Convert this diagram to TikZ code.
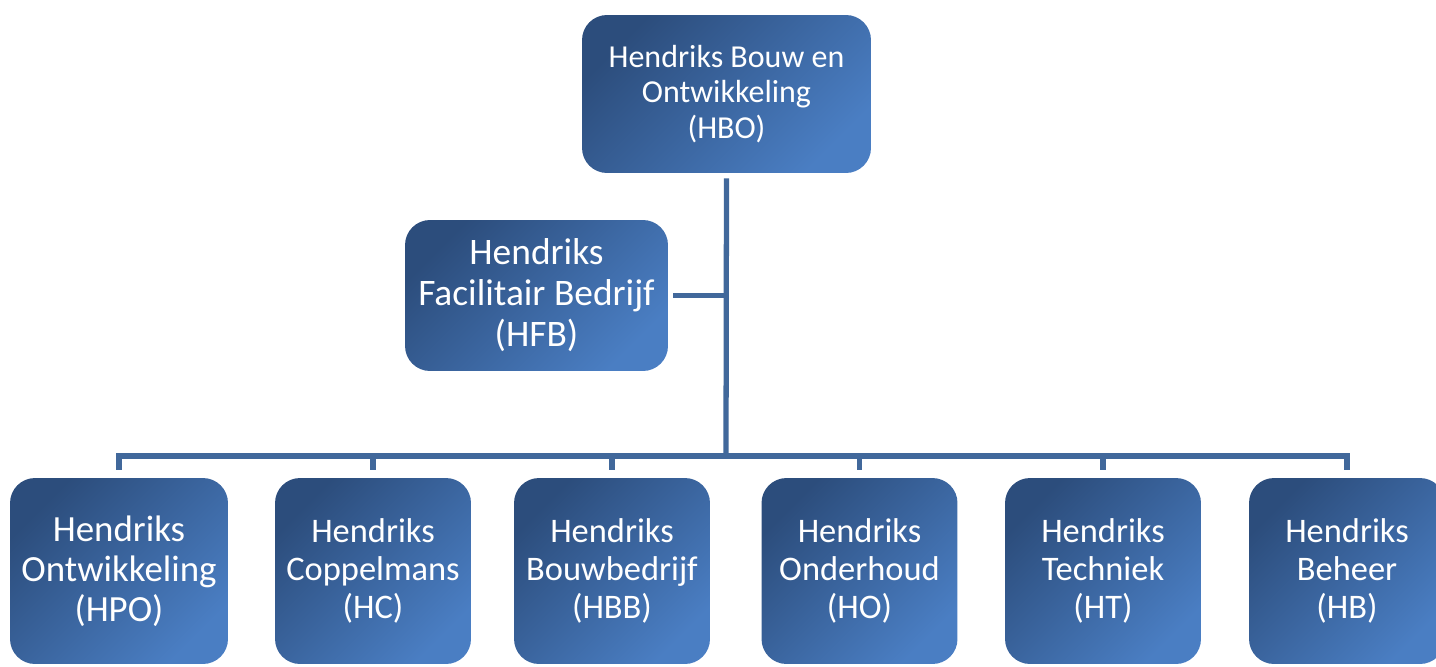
\documentclass[tikz,border=0pt]{standalone}
\usepackage{fontspec}
\setmainfont{Carlito}
\usetikzlibrary{positioning}

\definecolor{unitdark}{HTML}{2C4D7C}
\definecolor{unitlight}{HTML}{4A7EC3}
\definecolor{linkblue}{HTML}{41689B}

\tikzset{
  unit/.style={rectangle, rounded corners=0.5cm, text=white, align=center, inner sep=0pt,
    top color=unitdark, bottom color=unitlight, shading angle=45},
  link/.style={linkblue, line width=3pt, line join=miter},
  top/.style={unit, minimum width=5.78cm, minimum height=3.16cm, font=\fontsize{18.2}{20.2}\selectfont},
  side/.style={unit, minimum width=5.26cm, minimum height=3.02cm, font=\fontsize{21.3}{23.3}\selectfont},
  sub/.style={unit, minimum width=3.92cm, minimum height=3.72cm, font=\fontsize{19.6}{21.6}\selectfont}
}

\begin{document}
\begin{tikzpicture}[x=0.02cm, y=-0.02cm]
    \useasboundingbox (0,0) rectangle (1436,666);
    \node[top] (HBO) at (726.5,94) {Hendriks Bouw en\\Ontwikkeling\\(HBO)};
    \node[side] (HFB) at (536.5,295.5) {Hendriks\\Facilitair Bedrijf\\(HFB)};
    \node[sub, minimum width=4.36cm, font=\fontsize{21}{22.8}\selectfont] (HPO) at (119,571) {Hendriks\\Ontwikkeling\\(HPO)};
    \node[sub] (HC) at (373,571) {Hendriks\\Coppelmans\\(HC)};
    \node[sub] (HBB) at (612,571) {Hendriks\\Bouwbedrijf\\(HBB)};
    \node[sub] (HO) at (859.5,571) {Hendriks\\Onderhoud\\(HO)};
    \node[sub] (HT) at (1103,571) {Hendriks\\Techniek\\(HT)};
    \node[sub] (HB) at (1347,571) {Hendriks\\Beheer\\(HB)};
    \coordinate (bus) at (726,456);
    % connectors
    \draw[link, shorten <=0.1cm] (HBO.south) -- (bus);
    \draw[link, shorten <=0.1cm] (HFB.east) -- (HFB.east -| bus);
    \draw[link, shorten <=0.16cm, shorten >=0.16cm] (HPO.north) -- (HPO.north |- bus) -- (HB.north |- bus) -- (HB.north);
    \foreach \u in {HC, HBB, HO, HT}
        \draw[link, shorten >=0.16cm] (\u.north |- bus) -- (\u.north);
\end{tikzpicture}
\end{document}
